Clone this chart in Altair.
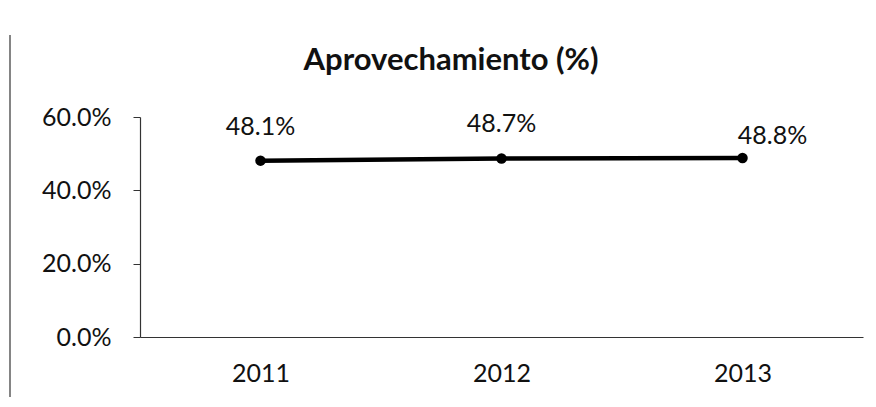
import altair as alt
import pandas as pd

years = ["2011", "2012", "2013"]
values = [0.481, 0.487, 0.488]
labels = ["48.1%", "48.7%", "48.8%"]
y_ticks = [0.0, 0.2, 0.4, 0.6]
title_text = "Aprovechamiento (%)"

df = pd.DataFrame({"year": years, "value": values, "label": labels})

FONT = "Lato"
FS = 25

x = alt.X("year:N", sort=years, title=None,
          scale=alt.Scale(paddingInner=0, paddingOuter=0),
          axis=alt.Axis(labelAngle=0, ticks=False, labelPadding=24, labelFontSize=FS, grid=False,
                        labelFont=FONT, labelColor="#111", domainColor="#333", domainWidth=1.2))
y = alt.Y("value:Q", title=None, scale=alt.Scale(domain=[0, 0.6]),
          axis=alt.Axis(values=y_ticks, format=".1%", grid=False, tickSize=7, tickColor="#333",
                        labelPadding=22, labelFontSize=FS, labelFont=FONT, labelColor="#111",
                        domainColor="#333", domainWidth=1.2))

base = alt.Chart(df)
line = base.mark_line(color="black", strokeWidth=4.5).encode(x=x, y=y)
pts = base.mark_point(filled=True, color="black", size=110, opacity=1).encode(x=x, y=y)
txt = base.mark_text(font=FONT, fontSize=FS, color="#111", dy=-34).encode(
    x=x, y=y, text="label:N").transform_filter(alt.datum.year != "2013")
txt_last = base.mark_text(font=FONT, fontSize=FS, color="#111", dy=-22, dx=30).encode(
    x=x, y=y, text="label:N").transform_filter(alt.datum.year == "2013")

one = pd.DataFrame({"t": [title_text]})
title = alt.Chart(one).mark_text(font=FONT, fontSize=31, fontWeight="bold", color="#111",
                                 align="center", baseline="alphabetic").encode(
    x=alt.value(311), y=alt.value(-47), text="t:N")

border = alt.Chart(one).mark_rule(color="#333", strokeWidth=1.2).encode(
    x=alt.value(-130), y=alt.value(-82), y2=alt.value(290))

chart = alt.layer(line, pts, txt, txt_last, title, border).properties(
    width=723, height=220,
    autosize=alt.AutoSizeParams(type="none"),
    padding={"left": 132, "top": 109, "right": 5, "bottom": 60},
    view=alt.ViewBackground(stroke="transparent", strokeWidth=0),
).configure(background="white", axis=alt.AxisConfig(grid=False))

chart.save("out.html", embed_options={"renderer": "svg", "actions": False})
